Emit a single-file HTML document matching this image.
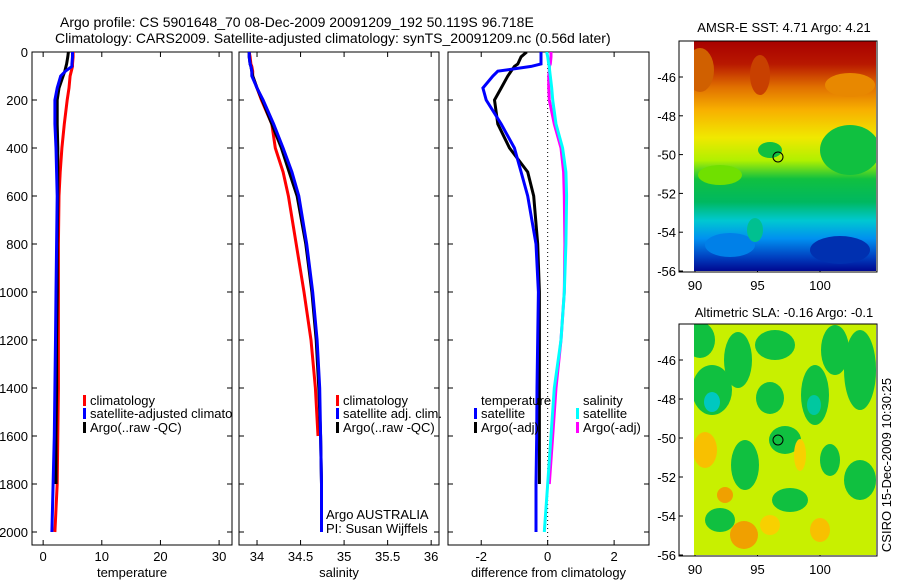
<!DOCTYPE html>
<html><head><meta charset="utf-8"><style>
body{margin:0;background:#fff;}
svg text{font-family:"Liberation Sans",sans-serif;fill:#000;}
</style></head><body>
<svg id="fig" width="900" height="580" viewBox="0 0 900 580" xmlns="http://www.w3.org/2000/svg">
<defs>
<linearGradient id="sstg" x1="0" y1="0" x2="0" y2="1">
<stop offset="0" stop-color="#a80000"/><stop offset="0.1" stop-color="#b81800"/>
<stop offset="0.2" stop-color="#e07000"/><stop offset="0.3" stop-color="#f8b000"/>
<stop offset="0.42" stop-color="#f0e800"/><stop offset="0.52" stop-color="#b0f000"/>
<stop offset="0.6" stop-color="#10c040"/><stop offset="0.7" stop-color="#00b860"/>
<stop offset="0.78" stop-color="#00c8d0"/><stop offset="0.86" stop-color="#0090f0"/>
<stop offset="0.94" stop-color="#0040c0"/><stop offset="1" stop-color="#000890"/>
</linearGradient>
<clipPath id="c1"><rect x="694" y="41" width="182" height="230"/></clipPath>
<clipPath id="c2"><rect x="694" y="324" width="182" height="231"/></clipPath>
<clipPath id="p1"><rect x="32" y="52" width="200" height="493"/></clipPath>
<clipPath id="p2"><rect x="239" y="52" width="200" height="493"/></clipPath>
<clipPath id="p3"><rect x="448" y="52" width="201" height="493"/></clipPath>
</defs>
<text x="60" y="27" font-size="14">Argo profile: CS 5901648_70 08-Dec-2009 20091209_192 50.119S 96.718E</text>
<text x="55" y="43" font-size="14">Climatology: CARS2009. Satellite-adjusted climatology: synTS_20091209.nc (0.56d later)</text>
<g id="plots"></g>
<g>
<text x="784" y="32" font-size="13" text-anchor="middle">AMSR-E SST: 4.71 Argo: 4.21</text>
<g clip-path="url(#c1)">
<rect x="694" y="41" width="182" height="230" fill="url(#sstg)"/>
<ellipse cx="700" cy="70" rx="14" ry="22" fill="#d06000"/>
<ellipse cx="760" cy="75" rx="10" ry="20" fill="#c84000"/>
<ellipse cx="850" cy="85" rx="25" ry="12" fill="#e88800"/>
<ellipse cx="850" cy="150" rx="30" ry="25" fill="#10c040"/>
<ellipse cx="770" cy="150" rx="12" ry="8" fill="#10c040"/>
<ellipse cx="720" cy="175" rx="22" ry="10" fill="#70e000"/>
<ellipse cx="730" cy="245" rx="25" ry="12" fill="#0080e8"/>
<ellipse cx="755" cy="230" rx="8" ry="12" fill="#00c090"/>
<ellipse cx="840" cy="250" rx="30" ry="14" fill="#0030b0"/>
</g>
<rect x="679" y="41" width="198" height="231" fill="none" stroke="#000"/>
<circle cx="778" cy="157" r="5" fill="none" stroke="#000"/>
</g>
<g>
<text x="784" y="317" font-size="13" text-anchor="middle">Altimetric SLA: -0.16 Argo: -0.1</text>
<g clip-path="url(#c2)">
<rect x="694" y="324" width="182" height="232" fill="#c8f000"/>
<ellipse cx="712" cy="390" rx="20" ry="25" fill="#10c040"/>
<ellipse cx="700" cy="340" rx="15" ry="18" fill="#10c040"/>
<ellipse cx="712" cy="402" rx="8" ry="10" fill="#00c8c0"/>
<ellipse cx="738" cy="360" rx="14" ry="28" fill="#10c040"/>
<ellipse cx="775" cy="345" rx="20" ry="15" fill="#10c040"/>
<ellipse cx="770" cy="398" rx="14" ry="16" fill="#10c040"/>
<ellipse cx="815" cy="395" rx="14" ry="30" fill="#10c040"/>
<ellipse cx="835" cy="350" rx="14" ry="25" fill="#10c040"/>
<ellipse cx="814" cy="405" rx="7" ry="10" fill="#00c8a0"/>
<ellipse cx="860" cy="370" rx="16" ry="40" fill="#10c040"/>
<ellipse cx="785" cy="440" rx="16" ry="14" fill="#10c040"/>
<ellipse cx="745" cy="465" rx="14" ry="25" fill="#10c040"/>
<ellipse cx="790" cy="500" rx="18" ry="12" fill="#10c040"/>
<ellipse cx="860" cy="480" rx="16" ry="20" fill="#10c040"/>
<ellipse cx="720" cy="520" rx="15" ry="12" fill="#10c040"/>
<ellipse cx="830" cy="460" rx="10" ry="16" fill="#10c040"/>
<ellipse cx="705" cy="450" rx="12" ry="18" fill="#f8c000"/>
<ellipse cx="744" cy="535" rx="14" ry="14" fill="#f0a000"/>
<ellipse cx="725" cy="495" rx="8" ry="8" fill="#f0a000"/>
<ellipse cx="820" cy="530" rx="10" ry="12" fill="#f8c000"/>
<ellipse cx="800" cy="455" rx="6" ry="16" fill="#f8d000"/>
<ellipse cx="770" cy="525" rx="10" ry="10" fill="#f8d000"/>
</g>
<rect x="679" y="324" width="198" height="232" fill="none" stroke="#000"/>
<circle cx="778" cy="440" r="5" fill="none" stroke="#000"/>
</g>
<text transform="translate(891,465) rotate(-90)" font-size="13" text-anchor="middle">CSIRO 15-Dec-2009 10:30:25</text>
</svg>
<script>
const depths=[0,20,50,60,80,100,150,200,300,400,500,600,800,1000,1200,1400,1600,1800,2000];
const tempClim=[5.1,5.1,5.0,5.0,4.8,4.6,4.4,4.1,3.6,3.2,2.9,2.7,2.6,2.6,2.6,2.6,2.5,2.4,2.0];
const tempSat=[5.0,5.0,4.9,4.9,3.8,3.0,2.4,2.0,2.0,2.2,2.3,2.4,2.3,2.2,2.1,2.0,1.9,1.7,1.5];
const tempArgo=[4.3,4.2,4.0,3.9,3.7,3.4,2.7,2.4,2.4,2.5,2.5,2.5,2.4,2.4,2.3,2.3,2.2,2.2,null];
const salClim=[33.91,33.92,33.93,33.94,33.95,33.95,34.0,34.05,34.17,34.21,34.3,34.36,34.45,34.54,34.62,34.67,34.7,null,null];
const salSat=[33.91,33.91,33.92,33.93,33.94,33.94,34.0,34.07,34.19,34.3,34.4,34.48,34.57,34.64,34.69,34.72,34.73,34.74,34.74];
const salArgo=[33.91,33.91,33.92,33.93,33.94,33.95,34.0,34.06,34.17,34.28,34.37,34.46,34.56,34.63,34.68,34.71,34.73,34.74,null];
const dTempSat=[-0.2,-0.2,-0.2,-0.5,-1.5,-1.65,-1.95,-1.85,-1.4,-1.0,-0.8,-0.6,-0.35,-0.28,-0.3,-0.32,-0.33,-0.35,-0.35];
const dTempArgo=[-0.63,-0.8,-0.9,-1.0,-1.1,-1.2,-1.4,-1.6,-1.5,-1.15,-0.6,-0.42,-0.3,-0.25,-0.25,-0.25,-0.25,-0.25,null];
const dSalSat=[-0.03,0.0,0.03,0.05,0.06,0.08,0.12,0.15,0.25,0.45,0.55,0.57,0.55,0.5,0.4,0.2,0.1,0.0,-0.1];
const dSalArgo=[0.1,0.1,0.08,0.05,0.05,0.03,0.03,0.05,0.2,0.4,0.48,0.5,0.52,0.5,0.4,0.25,0.15,0.05,null];
const depthTicks=[0,200,400,600,800,1000,1200,1400,1600,1800,2000];
const tempTicks=[0,10,20,30];
const salTicks=[34,34.5,35,35.5,36];
const diffTicks=[-2,0,2];
const mapLonTicks=[90,95,100];
const mapLatTicks=[-46,-48,-50,-52,-54,-56];

const NS='http://www.w3.org/2000/svg';
const g=document.getElementById('plots');
function el(tag,attrs,parent){const e=document.createElementNS(NS,tag);for(const k in attrs)e.setAttribute(k,attrs[k]);(parent||g).appendChild(e);return e;}
const yD=d=>52+d*0.24;
const panels=[
 {x0:32,x1:232,min:-1.9,max:32.2,ticks:tempTicks,label:'temperature',clip:'p1',name:'temperature-panel'},
 {x0:239,x1:439,min:33.793,max:36.09,ticks:salTicks,label:'salinity',clip:'p2',name:'salinity-panel'},
 {x0:448,x1:649,min:-3.0,max:3.05,ticks:diffTicks,label:'difference from climatology',clip:'p3',name:'difference-panel'}];
function xf(p){return v=>p.x0+(v-p.min)/(p.max-p.min)*(p.x1-p.x0);}
panels.forEach((p,i)=>{
 const pg=el('g',{});
 
 
 el('rect',{x:p.x0,y:52,width:p.x1-p.x0,height:493,fill:'none',stroke:'#000'},pg);
 const X=xf(p);
 p.ticks.forEach(t=>{const x=X(t);
  el('line',{x1:x,x2:x,y1:545,y2:540,stroke:'#000'},pg);el('line',{x1:x,x2:x,y1:52,y2:57,stroke:'#000'},pg);
  const tx=el('text',{x:x,y:561,'font-size':13,'text-anchor':'middle'},pg);tx.textContent=String(t);});
 depthTicks.forEach(d=>{const y=yD(d);
  el('line',{x1:p.x0,x2:p.x0+5,y1:y,y2:y,stroke:'#000'},pg);el('line',{x1:p.x1,x2:p.x1-5,y1:y,y2:y,stroke:'#000'},pg);
  if(i===0){const t=el('text',{x:28,y:y+5,'font-size':13,'text-anchor':'end'},pg);t.textContent=String(d);}});
 const lb=el('text',{x:(p.x0+p.x1)/2,y:577,'font-size':13,'text-anchor':'middle'},pg);lb.textContent=p.label;
 p.g=pg;p.X=X;
});
function series(p,vals,color,name){
 let d='';let started=false;
 vals.forEach((v,k)=>{if(v==null)return;d+=(started?'L':'M')+p.X(v).toFixed(1)+','+yD(depths[k]).toFixed(1);started=true;});
 const e=el('path',{d:d,fill:'none',stroke:color,'stroke-width':3,'clip-path':'url(#'+p.clip+')'},p.g);
 
 
}
const zx=panels[2].X(0);
el('line',{x1:zx,x2:zx,y1:52,y2:545,stroke:'#000','stroke-dasharray':'1,3'},panels[2].g);
series(panels[0],tempClim,'#f00','temp-climatology-line');
series(panels[0],tempArgo,'#000','temp-argo-line');
series(panels[0],tempSat,'#00f','temp-satellite-line');
series(panels[1],salClim,'#f00','sal-climatology-line');
series(panels[1],salArgo,'#000','sal-argo-line');
series(panels[1],salSat,'#00f','sal-satellite-line');
series(panels[2],dSalArgo,'#f0f','dsal-argo-line');
series(panels[2],dSalSat,'#0ff','dsal-satellite-line');
series(panels[2],dTempArgo,'#000','dtemp-argo-line');
series(panels[2],dTempSat,'#00f','dtemp-satellite-line');
function legend(x,y,color,text,name,clip){
 const lg=el('g',{});
 
 
 if(clip)lg.setAttribute('clip-path','url(#'+clip+')');
 if(color)el('rect',{x:x-7,y:y-10,width:3,height:11,fill:color},lg);
 const t=el('text',{x:x,y:y,'font-size':13},lg);t.textContent=text;
}
legend(90,405,'#f00','climatology','legend-climatology','p1');
legend(90,418,'#00f','satellite-adjusted climatology','legend-satellite-adjusted','p1');
legend(90,432,'#000','Argo(..raw -QC)','legend-argo','p1');
legend(343,405,'#f00','climatology','legend-sal-climatology');
legend(343,418,'#00f','satellite adj. clim.','legend-sal-satellite');
legend(343,432,'#000','Argo(..raw -QC)','legend-sal-argo');
legend(326,519,null,'Argo AUSTRALIA','argo-australia-label');
legend(326,533,null,'PI: Susan Wijffels','pi-label');
legend(481,405,null,'temperature','legend-temperature-header');
legend(481,418,'#00f','satellite','legend-dtemp-satellite');
legend(481,432,'#000','Argo(-adj)','legend-dtemp-argo');
legend(583,405,null,'salinity','legend-salinity-header');
legend(583,418,'#0ff','satellite','legend-dsal-satellite');
legend(583,432,'#f0f','Argo(-adj)','legend-dsal-argo');
[[41,272,286],[324,556,570]].forEach(([top,bot,ly])=>{
 const mg=el('g',{});
 
 
 const lonX=v=>695+(v-90)*12.5;
 const latY=v=>bot-1+(v+56)*(-(bot-top-37)/10);
 mapLonTicks.forEach(v=>{const x=lonX(v);el('line',{x1:x,x2:x,y1:bot,y2:bot-4,stroke:'#000'},mg);
  const t=el('text',{x:x,y:ly+4,'font-size':13,'text-anchor':'middle'},mg);t.textContent=String(v);});
 mapLatTicks.forEach(v=>{const y=latY(v);el('line',{x1:679,x2:683,y1:y,y2:y,stroke:'#000'},mg);
  const t=el('text',{x:676,y:y+5,'font-size':13,'text-anchor':'end'},mg);t.textContent=String(v);});
});
</script>
</body></html>
